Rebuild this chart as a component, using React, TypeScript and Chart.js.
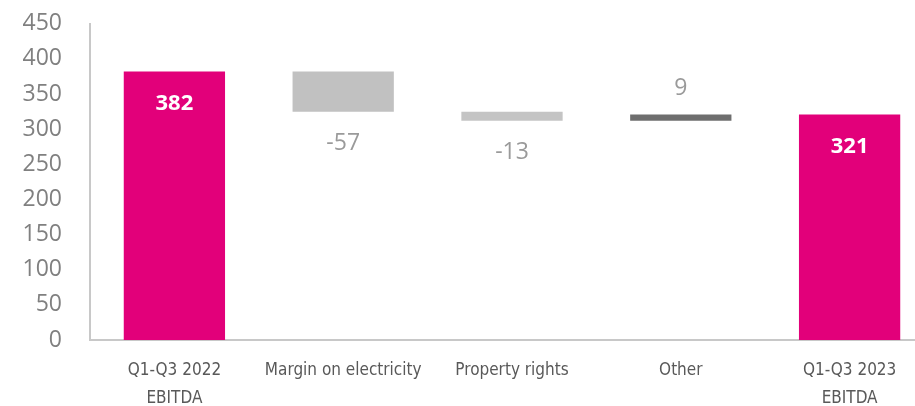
import React, { useEffect, useRef } from "react";
import { Chart, registerables } from "chart.js";

Chart.register(...registerables);

const categories: string[][] = [
  ["Q1-Q3 2022", "EBITDA"],
  ["Margin on electricity"],
  ["Property rights"],
  ["Other"],
  ["Q1-Q3 2023", "EBITDA"],
];
const changes: number[] = [382, -57, -13, 9, 321];
const kinds: string[] = ["total", "delta", "delta", "delta", "total"];
const barColors: string[] = ["#E2007A", "#C1C1C1", "#C4C4C4", "#6E6E6E", "#E2007A"];
const yMax = 450;
const yStep = 50;

function buildRanges(): [number, number][] {
  const out: [number, number][] = [];
  let running = 0;
  for (let i = 0; i < changes.length; i++) {
    if (kinds[i] === "total") {
      running = changes[i];
      out.push([0, changes[i]]);
    } else {
      const start = running;
      running = running + changes[i];
      out.push([Math.min(start, running), Math.max(start, running)]);
    }
  }
  return out;
}

const labelPlugin = {
  id: "wfLabels",
  afterDatasetsDraw(chart: any) {
    const ctx = chart.ctx;
    const meta = chart.getDatasetMeta(0);
    ctx.save();
    ctx.textAlign = "center";
    ctx.textBaseline = "middle";
    meta.data.forEach((bar: any, i: number) => {
      const v = changes[i];
      const top = Math.min(bar.y, bar.base);
      const bottom = Math.max(bar.y, bar.base);
      if (kinds[i] === "total") {
        ctx.font = "bold 22px 'Open Sans'";
        ctx.fillStyle = "#FFFFFF";
        ctx.fillText(String(v), bar.x, top + 32);
      } else {
        ctx.font = "23px 'Open Sans'";
        ctx.fillStyle = "#9A9A9A";
        if (v < 0) ctx.fillText(String(v), bar.x, bottom + 32);
        else ctx.fillText(String(v), bar.x, top - 26);
      }
    });
    ctx.restore();
  },
};

export default function App() {
  const ref = useRef<HTMLCanvasElement | null>(null);
  useEffect(() => {
    if (!ref.current) return;
    const chart = new Chart(ref.current, {
      type: "bar",
      data: {
        labels: categories as any,
        datasets: [
          {
            data: buildRanges() as any,
            backgroundColor: barColors,
            borderWidth: 0,
            barPercentage: 0.6,
            categoryPercentage: 1,
          },
        ],
      },
      options: {
        animation: false,
        responsive: false,
        maintainAspectRatio: false,
        layout: { padding: { top: 4, right: 6, bottom: 0, left: 0 } },
        plugins: { legend: { display: false }, tooltip: { enabled: false } },
        scales: {
          x: {
            offset: true,
            grid: { display: false, drawTicks: false },
            border: { display: true, color: "#C8C8C8", width: 2 },
            ticks: {
              color: "#595959",
              font: { family: "'Liberation Sans Narrow', 'DejaVu Sans Condensed', 'Roboto'", size: 17, lineHeight: 1.65 },
              padding: 17,
              maxRotation: 0,
              autoSkip: false,
            },
            afterFit(scale: any) {
              scale.height = 66;
            },
          },
          y: {
            min: 0,
            max: yMax,
            grid: { display: false, drawTicks: false },
            border: { display: true, color: "#C8C8C8", width: 2 },
            ticks: {
              stepSize: yStep,
              color: "#808080",
              font: { family: "'Open Sans'", size: 23 },
              padding: 28,
            },
            afterFit(scale: any) {
              scale.width = 90;
            },
          },
        },
      },
      plugins: [labelPlugin],
    });
    return () => chart.destroy();
  }, []);
  return (
    <div style={{ position: "fixed", left: 0, top: 0, width: 915, height: 406, overflow: "hidden", background: "#fff" }}>
      <canvas
        ref={ref}
        width={940}
        height={424}
        style={{ width: 940, height: 424, display: "block", position: "absolute", left: 0, top: -18 }}
      />
    </div>
  );
}
